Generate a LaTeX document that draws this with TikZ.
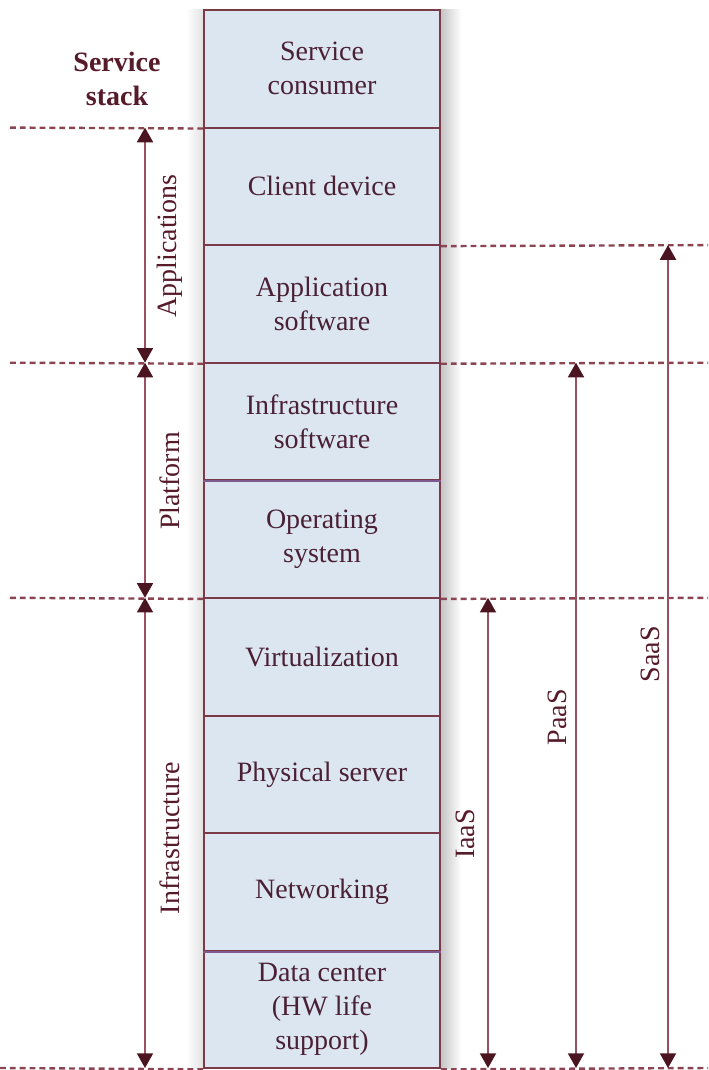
\documentclass[tikz,border=0pt]{standalone}
\usepackage{fontspec}
\setmainfont{Liberation Serif}
\usetikzlibrary{arrows.meta}
\definecolor{stackfill}{HTML}{DCE6F1}
\definecolor{edge}{HTML}{7B3A47}
\definecolor{lilac}{HTML}{7E5A8E}
\definecolor{ink}{HTML}{561A29}
\definecolor{boxink}{HTML}{4A2035}
\definecolor{tipink}{HTML}{4A1520}
\definecolor{guideink}{HTML}{8A4452}
\definecolor{spanink}{HTML}{9A5062}
\begin{document}
\begin{tikzpicture}[x=0.75pt,y=-0.75pt,
  layer/.style={draw=edge, line width=1.4pt, fill=stackfill,
    minimum width=177pt, minimum height=88.2pt, inner sep=0pt,
    align=center, text=boxink, font=\fontsize{21}{25.5}\selectfont},
  guide/.style={draw=guideink, line width=1.8pt, dash pattern=on 4.4pt off 3pt},
  span/.style={draw=spanink, line width=1.4pt,
    {Triangle[length=11pt,width=12pt,color=tipink]}-{Triangle[length=11pt,width=12pt,color=tipink]}},
  side/.style={rotate=90, text=ink, inner sep=0pt, font=\fontsize{21}{25}\selectfont},
  heading/.style={align=center, text=ink, font=\bfseries\fontsize{21}{25.5}\selectfont}]
\useasboundingbox (0,0) rectangle (708,1070);

% soft shadow beside the stack
\shade[left color=black!24, right color=white] (440,10) rectangle (461,1068);
\shade[left color=white, right color=black!12] (186,10) rectangle (204,1068);

% the service stack
\node[layer] (l1) at (322,68.8)   {Service\\consumer};
\node[layer] (l2) at (322,186.4)  {Client device};
\node[layer] (l3) at (322,304.0)  {Application\\software};
\node[layer] (l4) at (322,421.6)  {Infrastructure\\software};
\node[layer] (l5) at (322,539.2)  {Operating\\system};
\node[layer] (l6) at (322,656.8)  {Virtualization};
\node[layer] (l7) at (322,774.4)  {Physical server};
\node[layer] (l8) at (322,892.0)  {Networking};
\node[layer] (l9) at (322,1009.6) {Data center\\(HW life\\support)};
\draw[draw=lilac, line width=1.4pt] (l4.south west) -- (l4.south east);
\draw[draw=lilac, line width=1.4pt] (l8.south west) -- (l8.south east);

\node[heading] (title) at (117,79) {Service\\stack};

% boundary guides
\coordinate (gL1) at (10,127.6);
\coordinate (gL2) at (10,362.7);
\coordinate (gL3) at (10,597.8);
\coordinate (gL4) at (0,1068);
\coordinate (gR1) at (708,245.1);
\coordinate (gR2) at (708,362.7);
\coordinate (gR3) at (708,597.8);
\coordinate (gR4) at (708,1068);
\draw[guide] (gL1) -- (l1.south west);
\draw[guide] (gL2) -- (l3.south west);
\draw[guide] (gL3) -- (l5.south west);
\draw[guide] (gL4) -- (l9.south west);
\draw[guide] (l2.south east) -- (gR1);
\draw[guide] (l3.south east) -- (gR2);
\draw[guide] (l5.south east) -- (gR3);
\draw[guide] (l9.south east) -- (gR4);

% layer groups on the left
\coordinate (a0) at (145,127.6);
\coordinate (a1) at (145,362.7);
\coordinate (a2) at (145,597.8);
\coordinate (a3) at (145,1068);
\draw[span] (a0) -- (a1);
\draw[span] (a1) -- (a2);
\draw[span] (a2) -- (a3);
\node[side] (appl) at (170,246) {Applications};
\node[side] (plat) at (170,481) {Platform};
\node[side] (infr) at (170,838) {Infrastructure};

% service models on the right
\coordinate (iaasTop) at (488,597.8);
\coordinate (iaasBot) at (488,1068);
\coordinate (paasTop) at (576,362.7);
\coordinate (paasBot) at (576,1068);
\coordinate (saasTop) at (668,245.1);
\coordinate (saasBot) at (668,1068);
\draw[span] (iaasTop) -- (iaasBot);
\draw[span] (paasTop) -- (paasBot);
\draw[span] (saasTop) -- (saasBot);
\node[side] (iaas) at (465,834) {IaaS};
\node[side] (paas) at (557,717) {PaaS};
\node[side] (saas) at (650,654) {SaaS};
\end{tikzpicture}
\end{document}
